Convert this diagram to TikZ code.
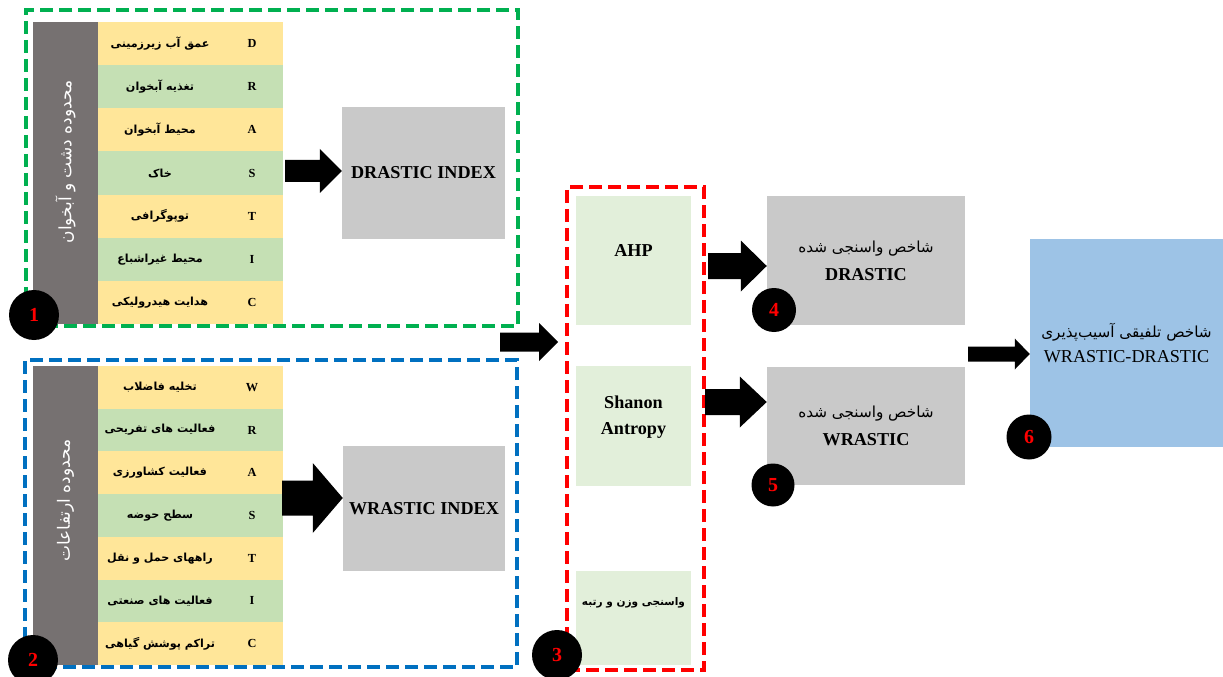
\documentclass[tikz,border=0pt]{standalone}
\usepackage{fontspec}
\setmainfont{Liberation Serif}
\newfontfamily\arabicfont[Script=Arabic]{DejaVu Sans}
\TeXXeTstate=1
\usetikzlibrary{calc}
\newlength\pxl
\setlength\pxl{0.03cm}
\newcommand\fa[1]{{\arabicfont\beginR #1\endR}}
\definecolor{rowY}{HTML}{FFE699}
\definecolor{rowG}{HTML}{C5E0B4}
\definecolor{colGray}{HTML}{767171}
\definecolor{boxGray}{HTML}{C9C9C9}
\definecolor{boxLG}{HTML}{E2EFDA}
\definecolor{boxBlue}{HTML}{9DC3E6}
\definecolor{dGreen}{HTML}{00B050}
\definecolor{dBlue}{HTML}{0070C0}
\definecolor{dRed}{HTML}{FF0000}
% block arrow from start coordinate #1 to the x of #2 (at the y of #1)
\newcommand\barrow[5]{\fill[black] let \p1=(#1), \p2=(#2 |- #1) in
 (\x1,{\y2+#3*0.5*\pxl}) -- ({\x2-#5*\pxl},{\y2+#3*0.5*\pxl}) --
 ({\x2-#5*\pxl},{\y2+#4*0.5*\pxl}) -- (\x2,\y2) --
 ({\x2-#5*\pxl},{\y2-#4*0.5*\pxl}) -- ({\x2-#5*\pxl},{\y2-#3*0.5*\pxl}) --
 (\x1,{\y2-#3*0.5*\pxl}) -- cycle;}
\begin{document}
\begin{tikzpicture}[x=0.03cm,y=-0.03cm,
  cell/.style={minimum width=185\pxl, minimum height=#1\pxl, inner sep=0pt, outer sep=0pt, anchor=north west},
  letter/.style={font=\bfseries\fontsize{10.5}{12}\selectfont, inner sep=0pt},
  fatext/.style={font=\bfseries\fontsize{9.5}{11}\selectfont, inner sep=0pt},
  colbox/.style={fill=colGray, minimum width=65\pxl, inner sep=0pt, outer sep=0pt, anchor=north west},
  coltext/.style={rotate=90, text=white, font=\fontsize{14.5}{16}\selectfont, inner sep=0pt},
  dashbox/.style={draw=#1, line width=4\pxl, dash pattern=on 13\pxl off 6\pxl, inner sep=0pt},
  gbox/.style={fill=boxGray, inner sep=0pt},
  lgbox/.style={fill=boxLG, inner sep=0pt},
  bigtext/.style={font=\bfseries\fontsize{15.5}{24}\selectfont, align=center},
  fabox/.style={font=\fontsize{13}{24}\selectfont, align=center},
  num/.style={circle, fill=black, inner sep=0pt, text=dRed, font=\bfseries\fontsize{17}{18}\selectfont}]
\clip (0,0) rectangle (1223,677);
\fill[white] (0,0) rectangle (1223,677);

% dashed frames
\node[dashbox=dGreen, minimum width=492\pxl, minimum height=316\pxl] (frameG) at (272,168) {};
\node[dashbox=dBlue, minimum width=492\pxl, minimum height=307\pxl] (frameB) at (271,513.5) {};
\node[dashbox=dRed, minimum width=137\pxl, minimum height=483\pxl] (frameR) at (635.5,428.5) {};

% top table
\node[colbox, minimum height=302\pxl] (dcol) at (33,22) {};
\node[coltext] (dcoltext) at ($(dcol.center)+(0,-11)$) {\fa{محدوده دشت و آبخوان}};
\foreach \i/\L/\c/\T in {0/D/rowY/عمق آب زیرزمینی, 1/R/rowG/تغذیه آبخوان, 2/A/rowY/محیط آبخوان, 3/S/rowG/خاک, 4/T/rowY/توپوگرافی, 5/I/rowG/محیط غیراشباع, 6/C/rowY/هدایت هیدرولیکی}{
  \node[cell=43.2, fill=\c] (d\i) at (98,{22+43.14*\i}) {};
  \node[letter] (dl\i) at ($(d\i.west)+(154,0)$) {\L};
  \node[fatext] (dt\i) at ($(d\i.west)+(62,0)$) {\fa{\T}};
}

% bottom table
\node[colbox, minimum height=299\pxl] (wcol) at (33,366) {};
\node[coltext] (wcoltext) at ($(wcol.center)+(0,-15)$) {\fa{محدوده ارتفاعات}};
\foreach \i/\L/\c/\T in {0/W/rowY/تخلیه فاضلاب, 1/R/rowG/فعالیت های تفریحی, 2/A/rowY/فعالیت کشاورزی, 3/S/rowG/سطح حوضه, 4/T/rowY/راههای حمل و نقل, 5/I/rowG/فعالیت های صنعتی, 6/C/rowY/تراکم پوشش گیاهی}{
  \node[cell=42.8, fill=\c] (w\i) at (98,{366+42.71*\i}) {};
  \node[letter] (wl\i) at ($(w\i.west)+(154,0)$) {\L};
  \node[fatext] (wt\i) at ($(w\i.west)+(62,0)$) {\fa{\T}};
}

% index boxes
\node[gbox, minimum width=163\pxl, minimum height=132\pxl, bigtext] (dbox) at (423.5,173) {DRASTIC INDEX};
\node[gbox, minimum width=162\pxl, minimum height=125\pxl, bigtext] (wbox) at (424,508.5) {WRASTIC INDEX};

% weighting methods
\node[lgbox, minimum width=115\pxl, minimum height=129\pxl] (ahp) at (633.5,260.5) {};
\node[bigtext] (ahpt) at ($(ahp.center)+(0,-10)$) {AHP};
\node[lgbox, minimum width=115\pxl, minimum height=120\pxl] (shan) at (633.5,426) {};
\node[bigtext, font=\bfseries\fontsize{15.5}{22}\selectfont] (shant) at ($(shan.center)+(0,-9)$) {Shanon\\Antropy};
\node[lgbox, minimum width=115\pxl, minimum height=94\pxl] (vaz) at (633.5,618) {};
\node[fatext, font=\bfseries\fontsize{9}{11}\selectfont] (vazt) at ($(vaz.center)+(0,-15)$) {\fa{واسنجی وزن و رتبه}};

% calibrated indices
\node[gbox, minimum width=198\pxl, minimum height=129\pxl, fabox] (b4) at (866,260.5) {\fa{شاخص واسنجی شده}\\\textbf{\fontsize{15.5}{18}\selectfont DRASTIC}};
\node[gbox, minimum width=198\pxl, minimum height=118\pxl, fabox] (b5) at (866,426) {\fa{شاخص واسنجی شده}\\\textbf{\fontsize{15.5}{18}\selectfont WRASTIC}};
\node[fill=boxBlue, inner sep=0pt, minimum width=193\pxl, minimum height=208\pxl, fabox, font=\fontsize{13}{21}\selectfont] (bb) at (1126.5,343) {\fa{شاخص تلفیقی آسیب‌پذیری}\\{\fontsize{15.5}{18}\selectfont WRASTIC-DRASTIC}};

% arrows
\coordinate (s1) at (285,171);
\coordinate (s2) at (282,498);
\coordinate (s3) at (500,342);
\coordinate (e3) at ($(frameR.west)+(-7,0)$);
\coordinate (s4) at (708,266);
\coordinate (s5) at (705,402);
\coordinate (s6) at (968,354);
\barrow{s1}{dbox.west}{22}{44}{22}
\barrow{s2}{wbox.west}{35}{70}{30}
\barrow{s3}{e3}{19}{38}{19}
\barrow{s4}{b4.west}{26}{51}{26}
\barrow{s5}{b5.west}{26}{51}{27}
\barrow{s6}{bb.west}{15}{31}{15}

% number circles
\node[num, minimum size=50\pxl] (n1) at (34,315) {1};
\node[num, minimum size=50\pxl] (n2) at (33,660) {2};
\node[num, minimum size=50\pxl] (n3) at (557,655) {3};
\node[num, minimum size=44\pxl] (n4) at (774,310) {4};
\node[num, minimum size=43\pxl] (n5) at (773,485) {5};
\node[num, minimum size=45\pxl] (n6) at (1029,437) {6};
\end{tikzpicture}
\end{document}
